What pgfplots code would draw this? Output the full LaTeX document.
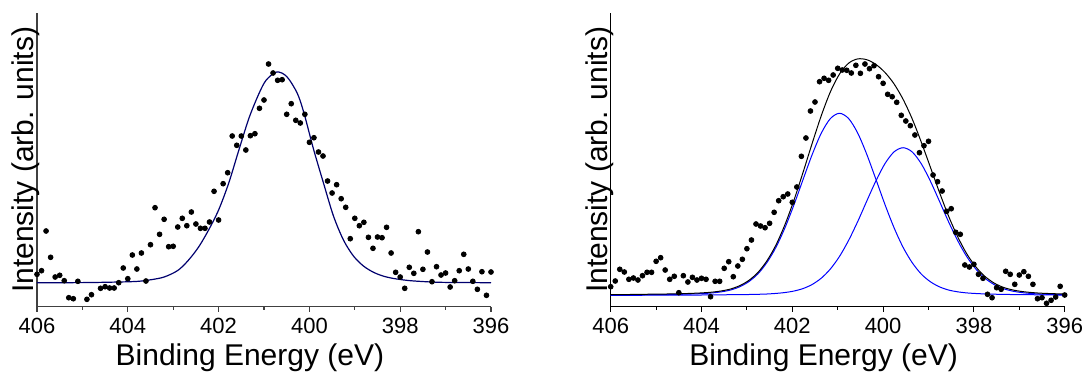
\documentclass[border=0pt]{standalone}
\usepackage{fontspec}
\setmainfont{Liberation Sans}
\usepackage{pgfplots}
\pgfplotsset{compat=1.18}
\definecolor{navyfit}{RGB}{0,0,110}
\definecolor{compblue}{RGB}{0,0,255}
\pgfplotsset{
  myax/.style={
    scale only axis, width=227pt, height=146.75pt,
    x dir=reverse, xmin=396, xmax=406, ymin=-0.5, ymax=293,
    axis x line*=bottom, axis y line*=left, axis line style={-},
    ytick=\empty,
    xtick={396,398,400,402,404,406},
    minor xtick={397,399,401,403,405},
    tick align=outside, major tick length=2.5pt, minor tick length=1.5pt,
    /pgf/number format/assume math mode=true,
    xticklabel style={font=\fontsize{11}{13}\selectfont},
    xlabel={Binding Energy (eV)},
    ylabel={Intensity (arb. units)},
    xlabel style={at={(axis description cs:0.469,-0.1993)}, anchor=base, font=\fontsize{15}{18}\selectfont},
    ylabel style={at={(axis description cs:-0.0081,0.5)}, anchor=base, font=\fontsize{15}{18}\selectfont},
    clip=true,
  },
  dots/.style={only marks, mark=*, mark size=1.2pt, mark options={fill=black, draw=none}},
}
\begin{document}
\begin{tikzpicture}
\path[use as bounding box] (0,0) rectangle (542.5pt,185.5pt);
% ---------------- left panel
\begin{axis}[myax, at={(18.5pt,32.25pt)}, anchor=south west,
  axis line style={black!75, line width=0.6pt}, every tick/.style={black!75, line width=0.6pt}]
\addplot[dots] coordinates {
(406.0,31.7)(405.9,35.3)(405.8,75)(405.7,48.7)(405.6,29)(405.5,30.7)(405.4,25.3)(405.3,8.3)(405.2,7.3)(405.1,24.7)
(405.0,-5)(404.9,6.7)(404.8,11.3)(404.7,-1.3)(404.6,17.7)(404.5,19.3)(404.4,18)(404.3,18)(404.2,23.3)(404.1,38)
(404.0,27.3)(403.9,51)(403.8,37)(403.7,53)(403.6,25)(403.5,61.3)(403.4,98.3)(403.3,71.7)(403.2,86.7)(403.1,59.3)
(403.0,59.7)(402.9,79)(402.8,87.7)(402.7,80.3)(402.6,94)(402.5,82)(402.4,77.7)(402.3,77.7)(402.2,84)(402.1,114.7)
(402.0,86)(401.9,122.3)(401.8,133.3)(401.7,170)(401.6,160.7)(401.5,170)(401.4,156)(401.3,170.3)(401.2,172.3)(401.1,197.7)
(401.0,206)(400.9,242)(400.8,233)(400.7,225.7)(400.6,226.3)(400.5,191.7)(400.4,202.3)(400.3,185.7)(400.2,183)(400.1,191.7)
(400.0,163.7)(399.9,168.3)(399.8,154)(399.7,150)(399.6,125)(399.5,113)(399.4,121.3)(399.3,107.3)(399.2,98.7)(399.1,67.3)
(399.0,87.7)(398.9,80.3)(398.8,83.7)(398.7,68.7)(398.6,57.7)(398.5,69)(398.4,68.3)(398.3,78.7)(398.2,53)(398.1,33.7)
(398.0,29)(397.9,17.7)(397.8,38.7)(397.7,32.7)(397.6,74.3)(397.5,36.7)(397.4,54)(397.3,24.3)(397.2,39.3)(397.1,31)
(397.0,33)(396.9,19)(396.8,25.3)(396.7,35.3)(396.6,51.7)(396.5,37)(396.4,24.7)(396.3,16.7)(396.2,34.3)(396.1,10.7)
(396.0,34)
};
\addplot[navyfit, line width=0.6pt, smooth] coordinates {
(406,23.3)(405,23.4)(404.3,23.9)(403.8,24.6)(403.5,26.2)(403.2,29.0)(402.9,35.5)(402.67,45.5)(402.44,59)(402.22,76)(402.0,96)
(401.78,122.5)(401.56,155)(401.33,188)(401.11,212.5)(400.95,226)(400.72,234)(400.5,229.5)(400.27,213)(400.12,193)
(399.91,157)(399.69,123)(399.47,90)(399.25,66)(399.03,50)(398.81,40)(398.6,34)(398.4,30.3)(398.18,27.8)(397.82,25.5)
(397.4,24.2)(397.0,23.6)(396,23.3)
};
\end{axis}
% ---------------- right panel
\begin{axis}[myax, at={(305.35pt,32.25pt)}, anchor=south west,
  axis line style={black, line width=0.5pt}, every tick/.style={black, line width=0.5pt}]
\addplot[dots] coordinates {
(406.0,19.3)(405.9,25)(405.8,36.7)(405.7,34)(405.6,26.7)(405.5,28)(405.4,26)(405.3,30.3)(405.2,33.7)(405.1,33.7)
(405.0,44.7)(404.9,48.3)(404.8,36)(404.7,26.7)(404.6,29.7)(404.5,13.3)(404.4,30.3)(404.3,24)(404.2,28.7)(404.1,26)
(404.0,27.7)(403.9,26.7)(403.8,9.3)(403.7,24.7)(403.6,24.7)(403.5,37.7)(403.4,44.3)(403.3,29.3)(403.2,40)(403.1,46.7)
(403.0,57.3)(402.9,66)(402.8,82)(402.7,80)(402.6,78.3)(402.5,82.7)(402.4,93.7)(402.3,105.3)(402.2,109.3)(402.1,112)
(402.0,103.7)(401.9,119)(401.8,149.7)(401.7,168)(401.6,195)(401.5,204)(401.4,224.3)(401.3,227.7)(401.2,225.7)(401.1,231)
(401.0,237.7)(400.9,236)(400.8,235.7)(400.7,233)(400.6,240.7)(400.5,232.7)(400.4,242)(400.3,237.3)(400.2,240.3)(400.1,229.3)
(400.0,222.7)(399.9,211.7)(399.8,209.3)(399.7,203.7)(399.6,190.7)(399.5,185)(399.4,180.3)(399.3,171)(399.2,153.3)(399.1,160.3)
(399.0,164.7)(398.9,131)(398.8,124.3)(398.7,115)(398.6,94.7)(398.5,97.3)(398.4,73.7)(398.3,71.7)(398.2,41)(398.1,39)
(398.0,41.7)(397.9,31.7)(397.8,27.7)(397.7,11.7)(397.6,8.3)(397.5,18.3)(397.4,16.7)(397.3,34.7)(397.2,31.7)(397.1,21.7)
(397.0,31)(396.9,34.3)(396.8,29.7)(396.7,21.7)(396.6,7.3)(396.5,8.3)(396.4,2.7)(396.3,5.7)(396.2,9)(396.1,19.7)
(396.0,11)
};
% component 1
\addplot[compblue, line width=0.5pt, smooth] coordinates {
(406.16,10.9)(405.76,11.0)(405.36,11.2)(404.96,11.4)(404.56,11.6)(404.16,12.1)(403.96,12.5)(403.76,13.1)(403.56,14.2)
(403.36,16.0)(403.16,19.2)(402.96,24.3)(402.76,32.0)(402.56,43.4)(402.36,58.7)(402.16,78.4)(401.96,101.6)(401.76,126.9)
(401.56,151.7)(401.36,173.0)(401.16,187.5)(400.96,192.7)(400.76,187.5)(400.56,173.0)(400.36,151.7)(400.16,126.9)
(399.96,101.6)(399.76,78.4)(399.56,58.7)(399.36,43.4)(399.16,32.0)(398.96,24.3)(398.76,19.2)(398.56,16.0)(398.36,14.2)
(398.16,13.1)(397.96,12.5)(397.76,12.1)(397.36,11.6)(396.96,11.4)(396.56,11.2)(396.16,11.0)(395.96,10.95)
};
% component 2
\addplot[compblue, line width=0.5pt, smooth] coordinates {
(406.16,10.7)(405.76,10.7)(405.36,10.75)(404.96,10.8)(404.56,10.85)(404.16,10.95)(403.76,11.1)(403.36,11.3)(402.96,11.5)
(402.76,11.7)(402.56,12.0)(402.36,12.6)(402.16,13.5)(401.96,15.0)(401.76,17.5)(401.56,21.6)(401.36,27.9)(401.16,37.1)
(400.96,49.6)(400.76,65.6)(400.56,84.4)(400.36,104.9)(400.16,125.0)(399.96,142.3)(399.76,154.1)(399.56,158.3)
(399.36,154.1)(399.16,142.3)(398.96,125.0)(398.76,104.9)(398.56,84.4)(398.36,65.6)(398.16,49.6)(397.96,37.1)
(397.76,27.9)(397.56,21.6)(397.36,17.5)(397.16,15.0)(396.96,13.5)(396.76,12.6)(396.56,12.0)(396.36,11.7)(396.16,11.5)(395.96,11.4)
};
% total fit
\addplot[black, line width=0.5pt, smooth] coordinates {
(406.16,11.3)(405.76,11.4)(405.36,11.65)(404.96,11.9)(404.56,12.15)(404.16,12.75)(403.96,13.2)(403.76,13.9)(403.56,15.1)
(403.36,17.0)(403.16,20.3)(402.96,25.5)(402.76,33.4)(402.56,45.1)(402.36,61.0)(402.16,81.6)(401.96,106.3)(401.76,134.1)
(401.56,163.0)(401.36,190.6)(401.16,214.3)(400.96,232.0)(400.76,242.8)(400.56,247.1)(400.36,246.3)(400.16,241.6)
(399.96,233.6)(399.76,222.2)(399.56,206.7)(399.36,187.2)(399.16,164.0)(398.96,139.0)(398.76,113.8)(398.56,90.1)
(398.36,69.5)(398.16,52.4)(397.96,39.3)(397.76,29.7)(397.56,23.1)(397.36,18.8)(397.16,16.2)(396.96,14.6)(396.76,13.6)
(396.56,12.9)(396.36,12.5)(396.16,12.2)(395.96,12.05)
};
\end{axis}
\end{tikzpicture}
\end{document}
